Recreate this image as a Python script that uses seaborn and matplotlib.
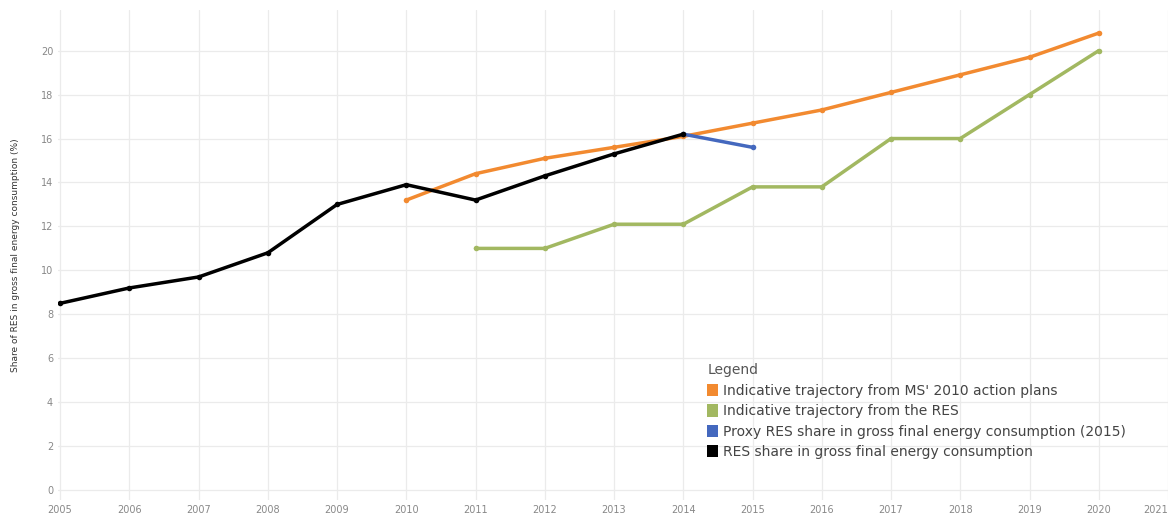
import pandas as pd
import seaborn as sns
import matplotlib.pyplot as plt
from matplotlib.patches import Patch

# values
years_hist = [2005, 2006, 2007, 2008, 2009, 2010, 2011, 2012, 2013, 2014]
res_share = [8.5, 9.2, 9.7, 10.8, 13.0, 13.9, 13.2, 14.3, 15.3, 16.2]

years_proxy = [2014, 2015]
proxy_share = [16.2, 15.6]

years_ms = [2010, 2011, 2012, 2013, 2014, 2015, 2016, 2017, 2018, 2019, 2020]
ms_plans = [13.2, 14.4, 15.1, 15.6, 16.1, 16.7, 17.3, 18.1, 18.9, 19.7, 20.8]

years_res = [2011, 2012, 2013, 2014, 2015, 2016, 2017, 2018, 2019, 2020]
res_directive = [11.0, 11.0, 12.1, 12.1, 13.8, 13.8, 16.0, 16.0, 18.0, 20.0]

labels = [
    "Indicative trajectory from MS' 2010 action plans",
    "Indicative trajectory from the RES",
    "Proxy RES share in gross final energy consumption (2015)",
    "RES share in gross final energy consumption",
]
colors = ["#F28A30", "#A2B861", "#4468BE", "#000000"]

frames = [
    pd.DataFrame({"Year": years_ms, "Share": ms_plans, "Series": labels[0]}),
    pd.DataFrame({"Year": years_res, "Share": res_directive, "Series": labels[1]}),
    pd.DataFrame({"Year": years_proxy, "Share": proxy_share, "Series": labels[2]}),
    pd.DataFrame({"Year": years_hist, "Share": res_share, "Series": labels[3]}),
]
df = pd.concat(frames, ignore_index=True)

sns.set_style("white")
fig = plt.figure(figsize=(11.68, 5.22), dpi=100)
ax = fig.add_axes([58 / 1168, 22 / 522, 1110 / 1168, 490 / 522])

sns.lineplot(data=df, x="Year", y="Share", hue="Series", hue_order=labels,
             palette=dict(zip(labels, colors)), linewidth=2.5, marker="o",
             markersize=4, markeredgewidth=0, legend=False, ax=ax)

ax.set_xlim(2004.97, 2021.0)
ax.set_ylim(-0.45, 21.85)
ax.set_xticks(range(2005, 2022))
ax.set_yticks(range(0, 21, 2))
ax.tick_params(labelsize=7, colors="#888888", length=0)
ax.get_xticklabels()[-1].set_horizontalalignment("right")
ax.grid(True, color="#EBEBEB", linewidth=0.9)
ax.set_axisbelow(True)
for s in ax.spines.values():
    s.set_visible(False)
ax.set_xlabel("")
ax.set_ylabel("Share of RES in gross final energy consumption (%)", fontsize=6.5, color="#333333")
ax.yaxis.set_label_coords(-0.034, 0.5)

handles = [Patch(facecolor=c, edgecolor="none") for c in colors]
leg = ax.legend(handles, labels, title="Legend", loc="upper left",
                bbox_to_anchor=(0.58, 0.29), frameon=False, fontsize=10,
                handlelength=0.8, handleheight=1.0, handletextpad=0.3,
                labelspacing=0.46, borderaxespad=0)
leg.get_title().set_fontsize(10)
leg.get_title().set_color("#555555")
leg._legend_box.align = "left"
for t in leg.get_texts():
    t.set_color("#444444")

plt.savefig("out.png", dpi=100)
